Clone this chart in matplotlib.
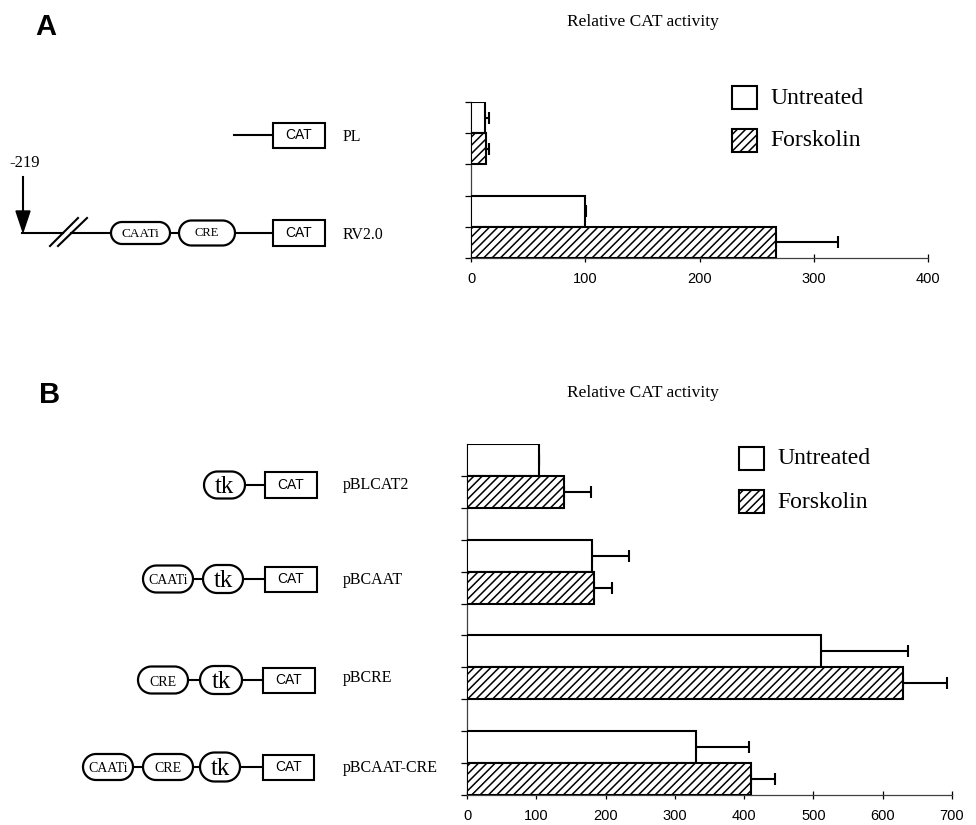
import numpy as np
import matplotlib
matplotlib.use("Agg")
import matplotlib.pyplot as plt
from matplotlib.patches import Rectangle, Polygon

plt.rcParams["font.family"] = ["Liberation Sans", "DejaVu Sans"]
plt.rcParams["hatch.linewidth"] = 1.1

SERIF = ["Liberation Serif", "DejaVu Serif"]

# Panel A data (relative CAT activity)
constructs_a = ["PL", "RV2.0"]
untreated_a = [12, 100]
untreated_err_a = [4, 1]
forskolin_a = [13, 267]
forskolin_err_a = [3, 54]
xticks_a = [0, 100, 200, 300, 400]

# Panel B data
constructs_b = ["pBLCAT2", "pBCAAT", "pBCRE", "pBCAAT-CRE"]
untreated_b = [104, 181, 511, 330]
untreated_err_b = [0, 53, 126, 77]
forskolin_b = [140, 183, 629, 410]
forskolin_err_b = [39, 26, 64, 35]
xticks_b = [0, 100, 200, 300, 400, 500, 600, 700]

W, H = 976, 825
fig = plt.figure(figsize=(W / 100, H / 100), dpi=100)

# overlay in pixel coordinates for the construct diagrams
ov = fig.add_axes([0, 0, 1, 1])
ov.set_xlim(0, W)
ov.set_ylim(H, 0)
ov.axis("off")


def bar_axes(left, right, top, bottom):
    return fig.add_axes([left / W, 1 - bottom / H, (right - left) / W, (bottom - top) / H])


def draw_bars(ax, untreated, u_err, forskolin, f_err, xticks, ymax):
    n = len(untreated)
    base = np.array([(n - 1 - i) * 3 for i in range(n)])
    yu = base + 1.5
    yf = base + 0.5
    ax.barh(yu, untreated, height=1, color="white", edgecolor="black", lw=1.5, zorder=3)
    ax.barh(yf, forskolin, height=1, color="white", edgecolor="black", lw=1.5,
            hatch="////", zorder=3)
    ax.errorbar(untreated, yu, xerr=[np.zeros(n), u_err], fmt="none", ecolor="black",
                elinewidth=1.5, capsize=4, capthick=1.5, zorder=2)
    ax.errorbar(forskolin, yf, xerr=[np.zeros(n), f_err], fmt="none", ecolor="black",
                elinewidth=1.5, capsize=4, capthick=1.5, zorder=2)
    ax.set_xlim(xticks[0], xticks[-1])
    ax.set_ylim(0, ymax)
    ax.set_xticks(xticks)
    ax.set_yticks(np.arange(0, ymax + 1))
    ax.set_yticklabels([])
    ax.patch.set_alpha(0)
    for s in ["top", "right"]:
        ax.spines[s].set_visible(False)
    for s in ["left", "bottom"]:
        ax.spines[s].set_linewidth(0.9)
        ax.spines[s].set_color("0.25")
    ax.tick_params(axis="x", direction="inout", length=6, width=0.9, labelsize=10.5, pad=7)
    ax.tick_params(axis="y", direction="out", length=4, width=0.9)


ax_a = bar_axes(471, 928, 102, 258)
draw_bars(ax_a, untreated_a, untreated_err_a, forskolin_a, forskolin_err_a, xticks_a, 5)
ax_b = bar_axes(467, 952, 444, 795)
draw_bars(ax_b, untreated_b, untreated_err_b, forskolin_b, forskolin_err_b, xticks_b, 11)
ax_b.set_yticks(np.arange(0, 11))
ax_b.set_yticklabels([])

# titles and panel letters
ov.text(643, 22, "Relative CAT activity", family=SERIF, fontsize=12.5, ha="center", va="center")
ov.text(643, 393, "Relative CAT activity", family=SERIF, fontsize=12.5, ha="center", va="center")
ov.text(35, 27, "A", fontsize=21, fontweight="bold", ha="left", va="center")
ov.text(39, 395, "B", fontsize=21, fontweight="bold", ha="left", va="center")


def legend(x, y_top):
    ov.add_patch(Rectangle((x, y_top), 25, 23, fc="white", ec="black", lw=1.5))
    ov.add_patch(Rectangle((x, y_top + 43), 25, 23, fc="white", ec="black", lw=1.5, hatch="////"))
    ov.text(x + 38, y_top + 12, "Untreated", family=SERIF, fontsize=17, va="center")
    ov.text(x + 38, y_top + 55, "Forskolin", family=SERIF, fontsize=17, va="center")


legend(732, 86)
legend(739, 447)


def stadium(x0, x1, yc, h, label, size, dy=0):
    r = h / 2
    t = np.linspace(-np.pi / 2, np.pi / 2, 30)
    right = np.column_stack([x1 - r + r * np.cos(t), yc + r * np.sin(t)])
    left = np.column_stack([x0 + r - r * np.cos(t), yc - r * np.sin(t)])
    ov.add_patch(Polygon(np.vstack([right, left]), closed=True, fc="white", ec="black",
                         lw=1.6, zorder=3))
    ov.text((x0 + x1) / 2, yc + dy, label, family=SERIF, fontsize=size, ha="center",
            va="center", zorder=4)


def cat_box(x0, x1, yc, h=25):
    ov.add_patch(Rectangle((x0, yc - h / 2), x1 - x0, h, fc="white", ec="black", lw=1.5, zorder=3))
    ov.text((x0 + x1) / 2, yc, "CAT", fontsize=10, ha="center", va="center", zorder=4)


def wire(x0, x1, y):
    ov.plot([x0, x1], [y, y], color="black", lw=1.5, zorder=1)


def label(y, text):
    ov.text(343, y, text, family=SERIF, fontsize=11.5, ha="left", va="center")


# Panel A constructs
wire(234, 273, 135)
cat_box(273, 325, 135)
label(137, constructs_a[0])

y = 233
wire(22, 63, y)
wire(71, 273, y)
ov.plot([50, 78], [246, 218], color="black", lw=1.5)
ov.plot([58, 87], [246, 218], color="black", lw=1.5)
stadium(111, 170, y, 22, "CAATi", 9.5, 1)
stadium(179, 235, y, 25, "CRE", 9)
cat_box(273, 325, y, 26)
label(235, constructs_a[1])
ov.plot([23, 23], [177, 212], color="black", lw=1.5)
ov.add_patch(Polygon([[16, 211], [30, 211], [23, 232]], closed=True, fc="black", ec="black"))
ov.text(9, 163, "-219", family=SERIF, fontsize=12, ha="left", va="center")

# Panel B constructs
y = 485
wire(245, 265, y)
stadium(204, 245, y, 27, "tk", 18, 2)
cat_box(265, 317, y, 26)
label(485, constructs_b[0])

y = 579
wire(193, 265, y)
stadium(143, 193, y, 27, "CAATi", 10, 2)
stadium(203, 243, y, 28, "tk", 18, 2)
cat_box(265, 317, y, 25)
label(580, constructs_b[1])

y = 680
wire(188, 263, y)
stadium(138, 188, y, 27, "CRE", 10, 2)
stadium(200, 242, y, 28, "tk", 18, 2)
cat_box(263, 315, y, 25)
label(678, constructs_b[2])

y = 767
wire(133, 263, y)
stadium(83, 133, y, 26, "CAATi", 10, 1)
stadium(143, 193, y, 26, "CRE", 10, 2)
stadium(200, 240, y, 29, "tk", 18, 2)
cat_box(263, 314, y, 25)
label(768, constructs_b[3])

fig.savefig("out.png", dpi=100)
